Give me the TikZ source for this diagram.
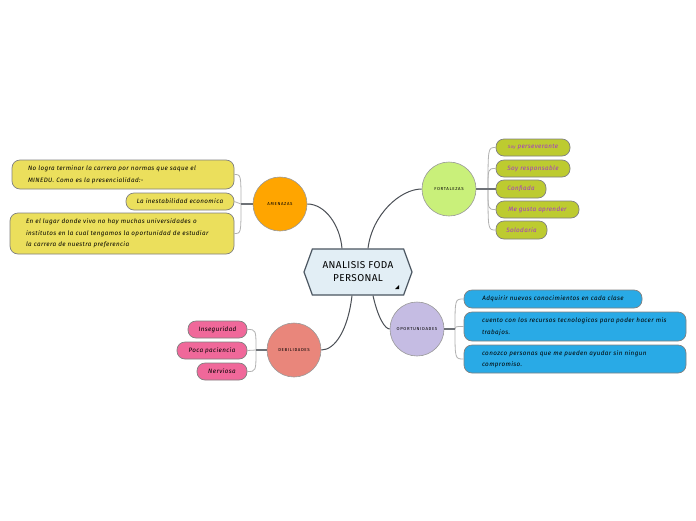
\documentclass[tikz,border=0pt]{standalone}
\usepackage{fontspec}
\setmainfont{Fira Sans}
\usetikzlibrary{shapes.symbols,calc}
\definecolor{hexfill}{HTML}{E2EEF5}
\definecolor{hexdraw}{HTML}{4A5560}
\definecolor{ylw}{HTML}{EBDF5C}
\definecolor{olv}{HTML}{BDCB30}
\definecolor{prp}{HTML}{A335C9}
\definecolor{blu}{HTML}{29AAE6}
\definecolor{pnk}{HTML}{F0689A}
\definecolor{org}{HTML}{FFA500}
\definecolor{grn}{HTML}{C9F07A}
\definecolor{lav}{HTML}{C5BCE3}
\definecolor{sal}{HTML}{E9867B}
\definecolor{lnk}{HTML}{4A4F55}
\tikzset{
  hexnode/.style={shape=signal, signal to=west and east, signal pointer angle=140,
    minimum width=108pt, minimum height=46pt, inner sep=0pt, fill=hexfill, draw=hexdraw,
    line width=1.2pt, align=center, font=\fontsize{10}{13}\selectfont\addfontfeatures{LetterSpace=4}},
  circ/.style={circle, minimum size=54pt, inner sep=0pt, draw=black!40, line width=.6pt,
    font=\fontsize{4.3}{5}\selectfont\addfontfeatures{LetterSpace=15}},
  kid/.style={rectangle, rounded corners=8pt, draw=black!50, line width=.7pt, inner sep=0pt,
    font=\fontsize{6.3}{11.5}\selectfont\itshape\addfontfeatures{LetterSpace=6}},
  main/.style={draw=lnk, line width=1pt},
  stem/.style={draw=lnk!80, line width=1.2pt},
  brk/.style={draw=black!30, line width=.8pt}
}
\begin{document}
\begin{tikzpicture}[x=1pt,y=-1pt]
\useasboundingbox[fill=white] (0,0) rectangle (696,520);
% central
\node[hexnode] (c) at (358,272) {ANALISIS FODA\\PERSONAL};
\fill[black] (395,289) -- (399,289) -- (399,285) -- cycle;
% circles
\node[circ, fill=org] (am) at (280,204) {AMENAZAS};
\node[circ, fill=grn] (fo) at (449,189) {FORTALEZAS};
\node[circ, fill=lav] (op) at (417,329) {OPORTUNIDADES};
\node[circ, fill=sal] (de) at (294,350) {DEBILIDADES};
% central connectors
\draw[main] (am.east) .. controls (325,204) and (340,225) .. ($(c.north)+(-16,0)$);
\draw[main] ($(c.north)+(10,0)$) .. controls (372,215) and (400,189) .. (fo.west);
\draw[main] ($(c.south)+(15,0)$) .. controls (378,318) and (385,329) .. (op.west);
\draw[main] ($(c.south)+(-6,0)$) .. controls (348,330) and (335,350) .. (de.east);
% amenazas children
\node[kid, fill=ylw, minimum width=222pt, minimum height=29pt, text width=190pt, align=left] (a1) at (123,174.5)
  {No logra terminar la carrera por normas que saque el\\MINEDU. Como es la presencialidad:-};
\node[kid, fill=ylw, minimum width=108pt, minimum height=17pt] (a2) at (180,201.5) {La inestabilidad economica};
\node[kid, fill=ylw, minimum width=224pt, minimum height=41pt, text width=192pt, align=left] (a3) at (122,233.5)
  {En el lugar donde vivo no hay muchas universidades o\\institutos en la cual tengamos la oportunidad de estudiar\\la carrera de nuestra preferencia};
\coordinate (amj) at (241,204);
\draw[brk] (a1.east) .. controls (241,174.5) .. (amj);
\draw[brk] (a2.east) -- (amj);
\draw[brk] (a3.east) .. controls (241,233.5) .. (amj);
\draw[stem] (am.west) -- (amj);
% fortalezas children
\begin{scope}[every node/.append style={kid, fill=olv, text=prp, minimum height=17pt}]
\node[minimum width=74pt] (f1) at (533,147.5) {{\fontsize{4.5}{5}\selectfont Soy} perseverante};
\node[minimum width=74pt] (f2) at (533,168.5) {Soy responsable};
\node[minimum width=50pt, minimum height=18pt] (f3) at (521,189) {Confiada};
\node[minimum width=83pt] (f4) at (537.5,209.5) {Me gusta aprender};
\node[minimum width=51pt, minimum height=18pt] (f5) at (521.5,230) {Solodaria};
\end{scope}
\coordinate (foj) at (488,189);
\foreach \k in {f1,f2,f4,f5} \draw[brk] (foj) .. controls ($(foj|-\k.west)$) .. (\k.west);
\draw[stem] (fo.east) -- (f3.west);
% oportunidades children
\node[kid, fill=blu, minimum width=178pt, minimum height=18pt] (o1) at (553,299) {Adquirir nuevos conocimientos en cada clase};
\node[kid, fill=blu, minimum width=222pt, minimum height=29pt, text width=186pt, align=left] (o2) at (575,326.5)
  {cuento con los recursos tecnologicos para poder hacer mis\\trabajos.};
\node[kid, fill=blu, minimum width=222pt, minimum height=28pt, text width=186pt, align=left] (o3) at (575,359)
  {conozco personas que me pueden ayudar sin ningun\\compromiso.};
\coordinate (opj) at (455,329);
\foreach \k in {o1,o2,o3} \draw[brk] (opj) .. controls ($(opj|-\k.west)$) .. (\k.west);
\draw[stem] (op.east) -- (opj);
% debilidades children
\node[kid, fill=pnk, minimum width=59pt, minimum height=17pt] (d1) at (217.5,329.5) {Inseguridad};
\node[kid, fill=pnk, minimum width=70pt, minimum height=17pt] (d2) at (212,350.5) {Poca paciencia};
\node[kid, fill=pnk, minimum width=50pt, minimum height=17pt] (d3) at (222,371.5) {Nerviosa};
\coordinate (dej) at (256,350);
\foreach \k in {d1,d3} \draw[brk] (dej) .. controls ($(dej|-\k.east)$) .. (\k.east);
\draw[brk] (dej) -- (d2.east);
\draw[stem] (de.west) -- (dej);
\end{tikzpicture}
\end{document}
